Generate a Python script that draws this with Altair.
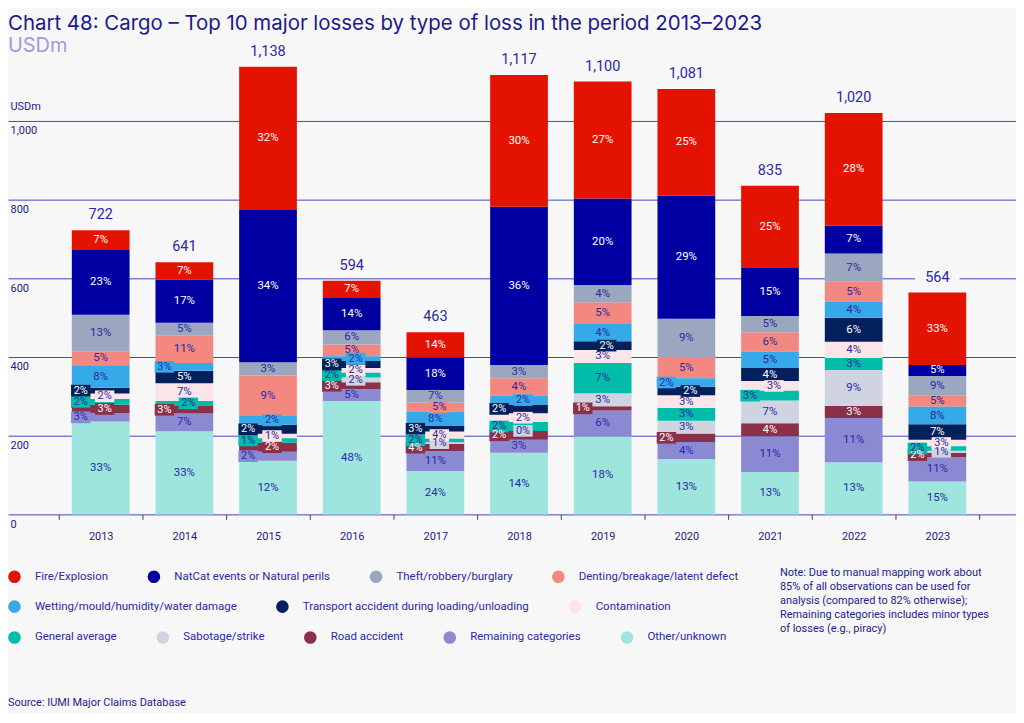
import altair as alt
import pandas as pd

# ---------------- data ----------------
years = ["2013", "2014", "2015", "2016", "2017", "2018", "2019", "2020", "2021", "2022", "2023"]
totals = [722, 641, 1138, 594, 463, 1117, 1100, 1081, 835, 1020, 564]

categories = [
    "Fire/Explosion",
    "NatCat events or Natural perils",
    "Theft/robbery/burglary",
    "Denting/breakage/latent defect",
    "Wetting/mould/humidity/water damage",
    "Transport accident during loading/unloading",
    "Contamination",
    "General average",
    "Sabotage/strike",
    "Road accident",
    "Remaining categories",
    "Other/unknown",
]
palette = ["#e41300", "#0000a2", "#9ba6bf", "#f28880", "#36a9e8", "#02205c",
           "#fbe5e8", "#00bca8", "#cfd4e0", "#8b3048", "#8c89d3", "#9de5dd"]

fire_pct = [7, 7, 32, 7, 14, 30, 27, 25, 25, 28, 33]
natcat_pct = [23, 17, 34, 14, 18, 36, 20, 29, 15, 7, 5]
theft_pct = [13, 5, 3, 6, 7, 3, 4, 9, 5, 7, 9]
denting_pct = [5, 11, 9, 5, 5, 4, 5, 5, 6, 5, 5]
wetting_pct = [8, 3, 2, 2, 8, 2, 4, 2, 5, 4, 8]
transport_pct = [2, 5, 2, 3, 3, 2, 2, 2, 4, 6, 7]
contamination_pct = [2, 7, 1, 2, 4, 2, 3, 3, 3, 4, 3]
general_avg_pct = [2, 2, 1, 2, 2, 2, 7, 3, 3, 3, 2]
sabotage_pct = [None, None, None, 2, 1, 0, 3, 3, 7, 9, 1]
road_pct = [3, 3, 2, 3, 4, 2, 1, 2, 4, 3, 2]
remaining_pct = [3, 7, 2, 5, 11, 3, 6, 4, 11, 11, 11]
other_pct = [33, 33, 12, 48, 24, 14, 18, 13, 13, 13, 15]

series = [fire_pct, natcat_pct, theft_pct, denting_pct, wetting_pct, transport_pct,
          contamination_pct, general_avg_pct, sabotage_pct, road_pct, remaining_pct, other_pct]

dark_cats = ["Fire/Explosion", "NatCat events or Natural perils",
             "Transport accident during loading/unloading", "Road accident"]

note = ("Note: Due to manual mapping work about\n85% of all observations can be used for\n"
        "analysis (compared to 82% otherwise);\nRemaining categories includes minor types\n"
        "of losses (e.g., piracy)")
source = "Source: IUMI Major Claims Database"

# ---------------- layout constants ----------------
D_MAX = 1200
W, H = 1012, 474
NAVY = "#1c1c8e"
LBL = "#2a2aa6"
BG = "#f7f7f7"
FONT = "Roboto"

# ---------------- table ----------------
rows = []
for i, yr in enumerate(years):
    order = list(range(len(categories)))[::-1]  # bottom -> top
    s = sum(series[k][i] for k in order if series[k][i] is not None)
    base = 0.0
    nsmall = 0
    for k in order:
        p = series[k][i]
        if p is None:
            continue
        v = p / s * totals[i]
        y0, y1 = base, base + v
        base = y1
        small = v * H / D_MAX < 10
        side = ""
        if small:
            side = "L" if nsmall % 2 == 0 else "R"
            nsmall += 1
        rows.append(dict(year=yr, cat=categories[k], label=f"{p}%", y0=y0, y1=y1,
                         mid=(y0 + y1) / 2, small=small, side=side,
                         dark=categories[k] in dark_cats))
df = pd.DataFrame(rows)
df_tot = pd.DataFrame({"year": years, "total": totals,
                       "tlabel": [f"{t:,}" for t in totals]})

# ---------------- scales / axes ----------------
xscale = alt.Scale(domain=years, paddingInner=0, paddingOuter=0.524, align=0.58)
xaxis = alt.Axis(title=None, domain=False, ticks=True, tickBand="extent", tickSize=5,
                 tickColor="#3a3ab0", labelPadding=11, labelFont=FONT, labelFontSize=11,
                 labelColor=NAVY, labelAngle=0, grid=False)
yscale = alt.Scale(domain=[0, D_MAX], nice=False, zero=True)
yaxis = alt.Axis(title="USDm", titleAngle=0, titleAlign="left", titleBaseline="bottom",
                 titleX=2, titleY=70, titleFont=FONT, titleFontSize=11,
                 titleFontWeight="normal", titleColor=NAVY,
                 values=[0, 200, 400, 600, 800, 1000],
                 labelExpr="format(datum.value, ',.0f')",
                 domain=False, ticks=False, tickSize=0, labelAlign="left",
                 labelBaseline="top", labelPadding=-2, labelOffset=4,
                 labelFont=FONT, labelFontSize=11, labelColor=NAVY,
                 grid=True, gridColor="#4646bf", gridWidth=1, gridOpacity=1)

X = alt.X("year:N", scale=xscale, axis=xaxis)


def Y(field):
    return alt.Y(field, scale=yscale, axis=yaxis)


groups = [categories[0:4], categories[4:7], categories[7:12]]
legend_y = [530, 560, 591]

layers = []
for g, ly in zip(groups, legend_y):
    gcol = [palette[categories.index(c)] for c in g]
    layers.append(
        alt.Chart(df[df["cat"].isin(g)]).mark_bar(width=alt.RelativeBandSize(0.69)).encode(
            x=X, y=Y("y0:Q"), y2="y1:Q",
            color=alt.Color("cat:N", sort=g, scale=alt.Scale(domain=g, range=gcol),
                            legend=alt.Legend(orient="none", legendX=0, legendY=ly,
                                              direction="horizontal", title=None,
                                              symbolType="circle", symbolSize=160,
                                              symbolStrokeWidth=0, labelFont=FONT,
                                              labelFontSize=11.5, labelColor=LBL,
                                              labelLimit=0, labelOffset=14,
                                              columnPadding=39, padding=0)),
        )
    )

full_color = alt.Scale(domain=categories, range=palette)
txt_color = alt.condition("datum.dark", alt.value("#ffffff"), alt.value(LBL))

# labels inside large segments
layers.append(
    alt.Chart(df[~df["small"]]).mark_text(font=FONT, fontSize=11.5, baseline="middle").encode(
        x=X, y=Y("mid:Q"), text="label:N", color=txt_color)
)

# boxed labels for thin segments
box_shape = "M-1,-0.6L1,-0.6L1,0.6L-1,0.6Z"
for side, off in (("L", -20), ("R", 4)):
    sub = df[df["side"] == side]
    layers.append(
        alt.Chart(sub).mark_point(shape=box_shape, size=380, filled=True, opacity=1,
                                  strokeWidth=0, xOffset=off).encode(
            x=X, y=Y("mid:Q"),
            color=alt.Color("cat:N", scale=full_color, legend=None))
    )
    layers.append(
        alt.Chart(sub).mark_text(font=FONT, fontSize=11, baseline="middle", dx=off).encode(
            x=X, y=Y("mid:Q"), text="label:N", color=txt_color)
    )

# totals above bars
tot_shape = "M-1,-0.4L1,-0.4L1,0.4L-1,0.4Z"
layers.append(
    alt.Chart(df_tot).mark_point(shape=tot_shape, size=2000, filled=True, opacity=1,
                                 strokeWidth=0, color=BG, yOffset=-15).encode(
        x=X, y=Y("total:Q"))
)
layers.append(
    alt.Chart(df_tot).mark_text(font=FONT, fontSize=14.5, baseline="middle", dy=-15,
                                color=LBL).encode(
        x=X, y=Y("total:Q"), text="tlabel:N")
)

# note and source
layers.append(
    alt.Chart(pd.DataFrame({"t": [note]})).mark_text(
        font=FONT, fontSize=11, align="left", baseline="top", lineBreak="\n",
        lineHeight=14, color=NAVY).encode(
        x=alt.value(775), y=alt.value(527), text="t:N")
)
layers.append(
    alt.Chart(pd.DataFrame({"t": [source]})).mark_text(
        font=FONT, fontSize=11, align="left", baseline="middle", color=NAVY).encode(
        x=alt.value(0), y=alt.value(663), text="t:N")
)

chart = alt.layer(*layers).resolve_scale(color="independent").properties(
    width=W, height=H,
    padding={"left": 0, "top": 33, "right": 0, "bottom": 198},
    autosize=alt.AutoSizeParams(type="none"),
    background=BG,
    title=alt.TitleParams(
        text="Chart 48: Cargo \u2013 Top 10 major losses by type of loss in the period 2013\u20132023",
        subtitle="USDm", anchor="start", frame="group", font="Inter", fontSize=20.5,
        fontWeight=400, color="#1a1a8e", subtitleFont="Inter", subtitleFontSize=20,
        subtitleColor="#9c9cdc", subtitlePadding=2, offset=-14),
).configure_view(stroke=None)

chart.save("out.html", embed_options={"renderer": "svg", "actions": False})
